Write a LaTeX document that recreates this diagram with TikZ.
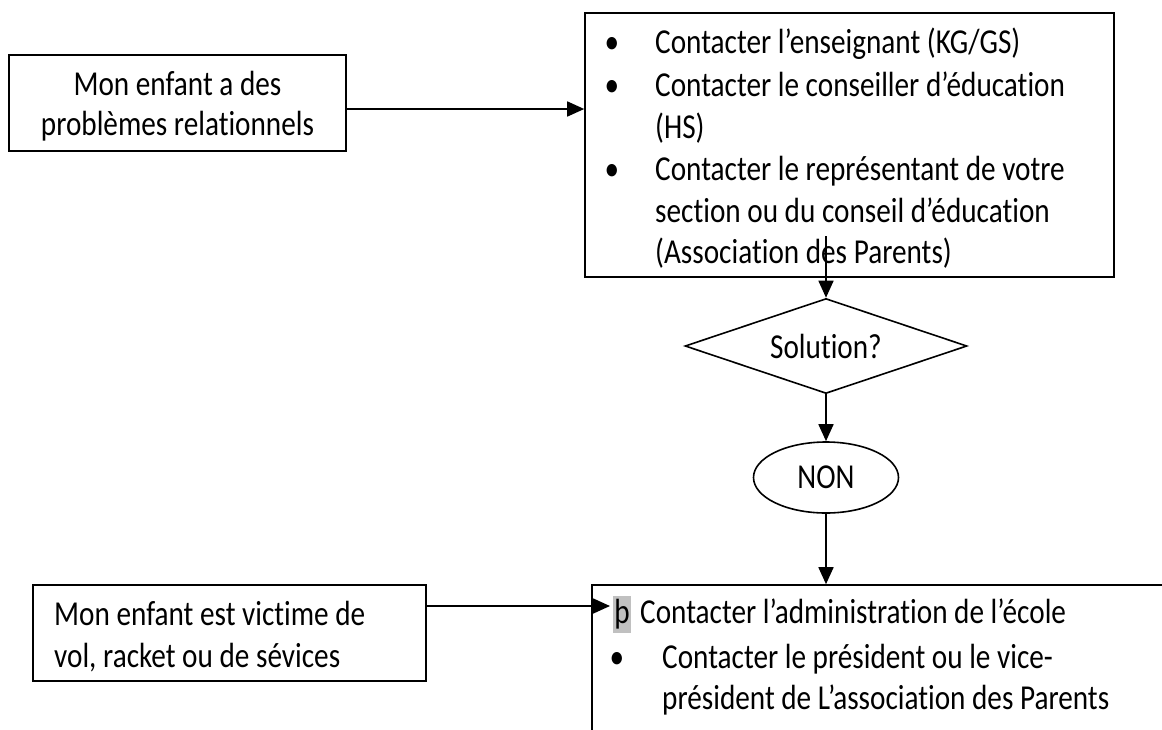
\documentclass[tikz,border=0pt]{standalone}
\usepackage{fontspec}
\setmainfont{Carlito}[FakeStretch=0.835, Ligatures=NoCommon]
\usetikzlibrary{arrows.meta,shapes.geometric,fit}
\definecolor{hl}{RGB}{192,192,192}
\tikzset{
  boxline/.style={draw=black, line width=1.6pt},
  frame/.style={boxline, inner sep=0pt},
  txt/.style={inner sep=0pt, anchor=base west, font=\fontsize{35}{42}\selectfont},
  ctxt/.style={inner sep=0pt, anchor=base, font=\fontsize{35}{42}\selectfont},
  arr/.style={line width=1.6pt, -{Triangle[length=17pt,width=15pt]}},
}
\begin{document}
\begin{tikzpicture}[x=1pt,y=-1pt]
\clip (0,0) rectangle (1162,729);
\fill[white] (0,0) rectangle (1162,729);

% box 1
\node[frame, fit={(9,55)(346,151)}] (box1) {};
\node[ctxt] (b1l1) at (177.5,95) {Mon enfant a des};
\node[ctxt] (b1l2) at (177.5,135) {problèmes relationnels};

% box 2
\node[frame, fit={(585,13)(1114,277)}] (box2) {};
\node[ctxt] (b2u1) at (612,53) {•};
\node[txt] (b2l1) at (655,53) {Contacter l’enseignant (KG/GS)};
\node[ctxt] (b2u2) at (612,96) {•};
\node[txt] (b2l2) at (655,96) {Contacter le conseiller d’éducation};
\node[txt] (b2l3) at (655,138) {(HS)};
\node[ctxt] (b2u3) at (612,180) {•};
\node[txt] (b2l4) at (655,180) {Contacter le représentant de votre};
\node[txt] (b2l5) at (655,222) {section ou du conseil d’éducation};
\node[txt] (b2l6) at (655,263) {(Association des Parents)};

% decision
\node[boxline, shape=diamond, aspect=3, minimum width=282pt, minimum height=95pt, inner sep=0pt,
      font=\fontsize{35}{42}\selectfont] (dia) at (826,346) {Solution?};
\node[boxline, shape=ellipse, minimum width=145pt, minimum height=71pt, inner sep=0pt,
      font=\fontsize{35}{42}\selectfont] (non) at (826,477.5) {NON};

% box 4
\node[frame, fit={(33,585)(426,681)}] (box4) {};
\node[txt] (b4l1) at (54,625) {Mon enfant est victime de};
\node[txt] (b4l2) at (54,667) {vol, racket ou de sévices};

% box 3 (cut off by the page)
\node[frame, fit={(592,585)(1200,790)}] (box3) {};
\node[fill=hl, minimum width=18pt, minimum height=37pt, inner sep=0pt, anchor=north west] (hlbox) at (613,596) {};
\node[ctxt] (thorn) at (622,623) {þ};
\node[txt] (b3l1) at (640,623) {Contacter l’administration de l’école};
\node[ctxt] (b3u2) at (617,668) {•};
\node[txt] (b3l2) at (662,668) {Contacter le président ou le vice-};
\node[txt] (b3l3) at (662,709) {président de L’association des Parents};

% connectors
\coordinate (b2out) at (826,236);
\coordinate (tip4) at (610,606);
\draw[arr] ([yshift=-6pt]box1.east) -- ([yshift=-6pt]box1.east -| box2.west);
\draw[arr] (b2out) -- (dia.north);
\draw[arr] (dia.south) -- (non.north);
\draw[arr] (non.south) -- (non.south |- box3.north);
\draw[arr] ([yshift=27pt]box4.east) -- (tip4);
\end{tikzpicture}
\end{document}
